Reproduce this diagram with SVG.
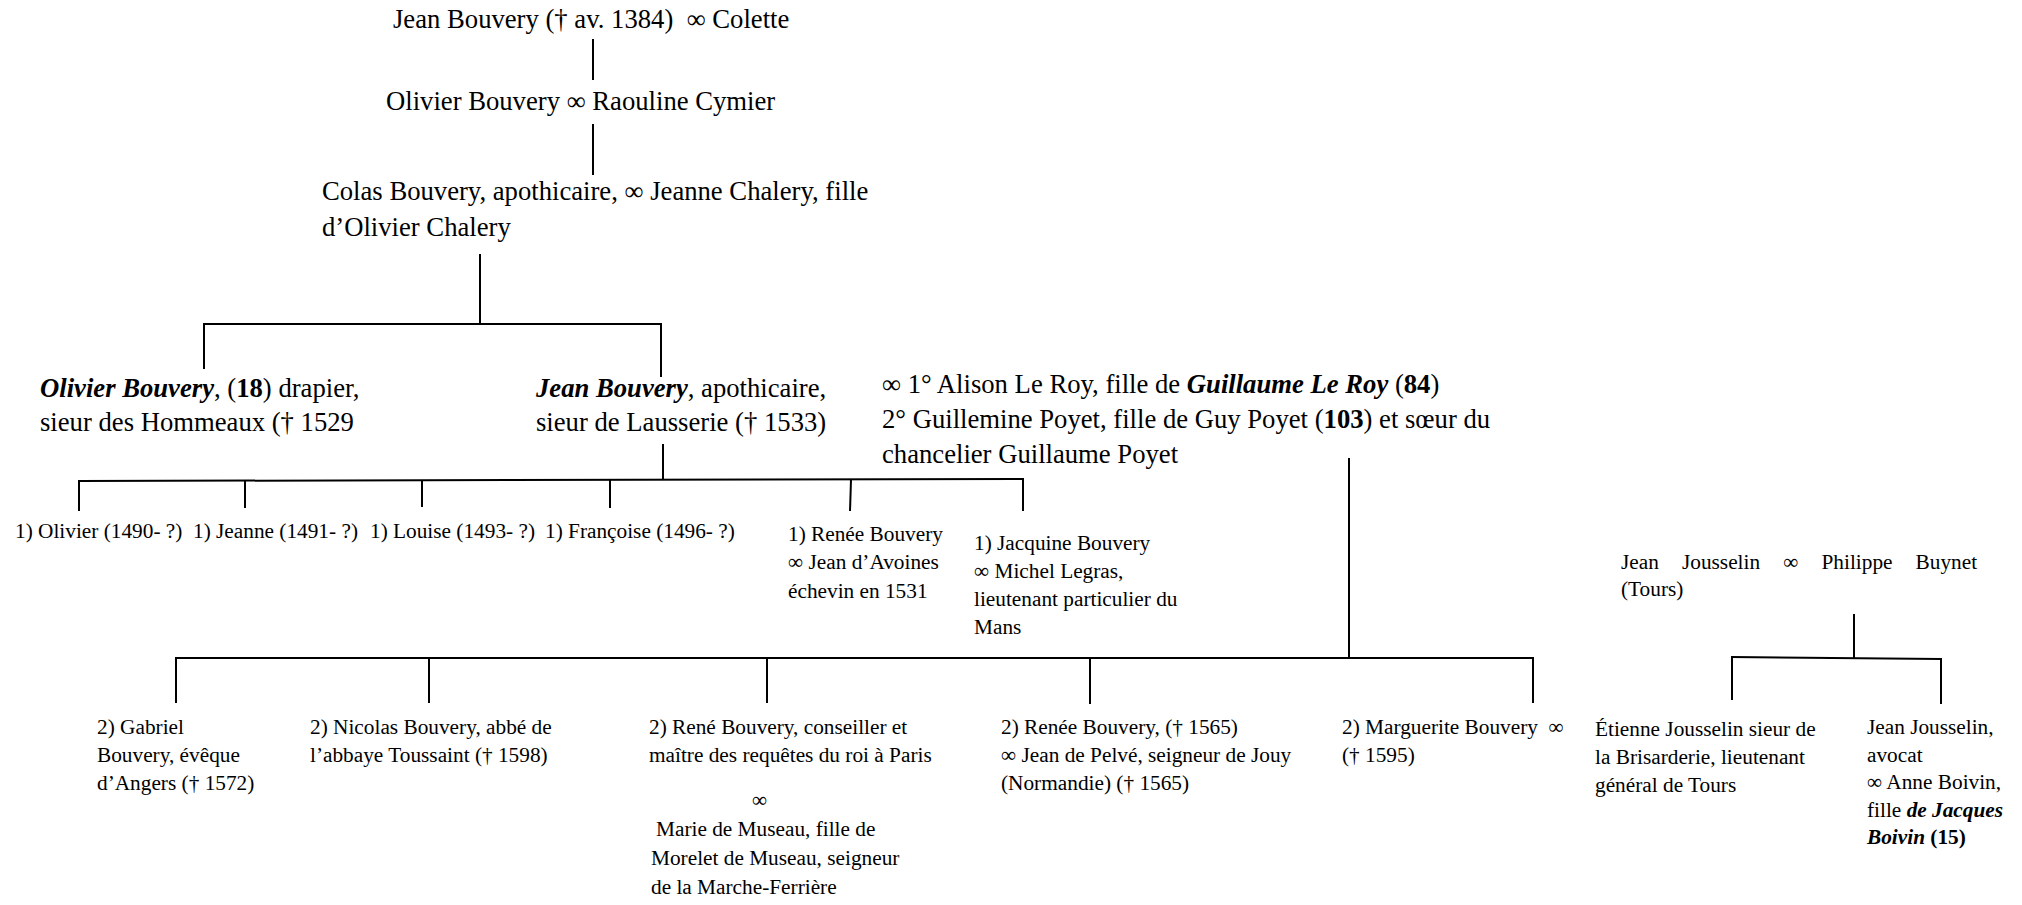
<svg xmlns="http://www.w3.org/2000/svg" width="2022" height="905" viewBox="0 0 2022 905">
<style>
text{font-family:"Liberation Serif","Times New Roman",serif;fill:#000}
.L{font-size:26.67px}
.S{font-size:21.3px}
.bi{font-weight:bold;font-style:italic}
.b{font-weight:bold}
#connectors line{stroke:#000;stroke-width:2;fill:none}
</style>
<rect width="2022" height="905" fill="#fff"/>
<g id="connectors">
<line x1="593" y1="39" x2="593" y2="80"/>
<line x1="593" y1="124" x2="593" y2="175"/>
<line x1="480" y1="254" x2="480" y2="324"/>
<line x1="203" y1="324" x2="662" y2="324"/>
<line x1="204" y1="323" x2="204" y2="369"/>
<line x1="661" y1="323" x2="661" y2="377"/>
<line x1="663" y1="444" x2="663" y2="480"/>
<line x1="78" y1="481" x2="1024" y2="479"/>
<line x1="79" y1="481" x2="79" y2="511"/>
<line x1="245" y1="481" x2="245" y2="508"/>
<line x1="422" y1="480" x2="422" y2="507"/>
<line x1="610" y1="480" x2="610" y2="508"/>
<line x1="851" y1="480" x2="850" y2="511"/>
<line x1="1023" y1="479" x2="1023" y2="511"/>
<line x1="1349" y1="458" x2="1349" y2="658"/>
<line x1="175" y1="658" x2="1534" y2="658"/>
<line x1="176" y1="657" x2="176" y2="703"/>
<line x1="429" y1="657" x2="429" y2="703"/>
<line x1="767" y1="657" x2="767" y2="703"/>
<line x1="1090" y1="657" x2="1090" y2="704"/>
<line x1="1533" y1="657" x2="1533" y2="703"/>
<line x1="1854" y1="614" x2="1854" y2="658"/>
<line x1="1731" y1="657" x2="1941" y2="659"/>
<line x1="1732" y1="656" x2="1732" y2="700"/>
<line x1="1941" y1="658" x2="1941" y2="704"/>
</g>
<g id="n-jean-colette"><text class="L" x="393" y="28">Jean Bouvery († av. 1384)&#160; ∞ Colette</text></g>
<g id="n-olivier-raouline"><text class="L" x="386" y="110">Olivier Bouvery ∞ Raouline Cymier</text></g>
<g id="n-colas"><text class="L" x="322" y="200">Colas Bouvery, apothicaire, ∞ Jeanne Chalery, fille</text><text class="L" x="322" y="236">d’Olivier Chalery</text></g>
<g id="n-olivier18"><text class="L" x="40" y="397"><tspan class="bi">Olivier Bouvery</tspan>, (<tspan class="b">18</tspan>) drapier,</text><text class="L" x="40" y="431">sieur des Hommeaux († 1529</text></g>
<g id="n-jean-lausserie"><text class="L" x="536" y="397"><tspan class="bi">Jean Bouvery</tspan>, apothicaire,</text><text class="L" x="536" y="431">sieur de Lausserie († 1533)</text></g>
<g id="n-wives"><text class="L" x="882" y="393">∞ 1° Alison Le Roy, fille de <tspan class="bi">Guillaume Le Roy</tspan> (<tspan class="b">84</tspan>)</text><text class="L" x="882" y="428">2° Guillemine Poyet, fille de Guy Poyet (<tspan class="b">103</tspan>) et sœur du</text><text class="L" x="882" y="463">chancelier Guillaume Poyet</text></g>
<g id="n-olivier1490"><text class="S" x="15" y="538">1) Olivier (1490- ?)</text></g>
<g id="n-jeanne1491"><text class="S" x="193" y="538">1) Jeanne (1491- ?)</text></g>
<g id="n-louise1493"><text class="S" x="370" y="538">1) Louise (1493- ?)</text></g>
<g id="n-francoise1496"><text class="S" x="545" y="538">1) Françoise (1496- ?)</text></g>
<g id="n-renee1"><text class="S" x="788" y="541">1) Renée Bouvery</text><text class="S" x="788" y="569">∞ Jean d’Avoines</text><text class="S" x="788" y="598">échevin en 1531</text></g>
<g id="n-jacquine"><text class="S" x="974" y="550">1) Jacquine Bouvery</text><text class="S" x="974" y="578">∞ Michel Legras,</text><text class="S" x="974" y="606">lieutenant particulier du</text><text class="S" x="974" y="634">Mans</text></g>
<g id="n-gabriel"><text class="S" x="97" y="734">2) Gabriel</text><text class="S" x="97" y="762">Bouvery, évêque</text><text class="S" x="97" y="790">d’Angers († 1572)</text></g>
<g id="n-nicolas"><text class="S" x="310" y="734">2) Nicolas Bouvery, abbé de</text><text class="S" x="310" y="762">l’abbaye Toussaint († 1598)</text></g>
<g id="n-rene"><text class="S" x="649" y="734">2) René Bouvery, conseiller et</text><text class="S" x="649" y="762">maître des requêtes du roi à Paris</text><text class="S" x="752" y="807">∞</text><text class="S" x="656" y="836">Marie de Museau, fille de</text><text class="S" x="651" y="865">Morelet de Museau, seigneur</text><text class="S" x="651" y="894">de la Marche-Ferrière</text></g>
<g id="n-renee2"><text class="S" x="1001" y="734">2) Renée Bouvery, († 1565)</text><text class="S" x="1001" y="762">∞ Jean de Pelvé, seigneur de Jouy</text><text class="S" x="1001" y="790">(Normandie) († 1565)</text></g>
<g id="n-marguerite"><text class="S" x="1342" y="734">2) Marguerite Bouvery&#160; ∞</text><text class="S" x="1342" y="762">(† 1595)</text></g>
<g id="n-jousselin-buynet"><text class="S" x="1621" y="569" word-spacing="17.8">Jean Jousselin ∞ Philippe Buynet</text><text class="S" x="1621" y="596">(Tours)</text></g>
<g id="n-etienne"><text class="S" x="1595" y="736">Étienne Jousselin sieur de</text><text class="S" x="1595" y="764">la Brisarderie, lieutenant</text><text class="S" x="1595" y="792">général de Tours</text></g>
<g id="n-jean-jousselin"><text class="S" x="1867" y="734">Jean Jousselin,</text><text class="S" x="1867" y="762">avocat</text><text class="S" x="1867" y="789">∞ Anne Boivin,</text><text class="S" x="1867" y="817">fille <tspan class="bi">de Jacques</tspan></text><text class="S" x="1867" y="844"><tspan class="bi">Boivin</tspan> <tspan class="b">(15)</tspan></text></g>
</svg>
